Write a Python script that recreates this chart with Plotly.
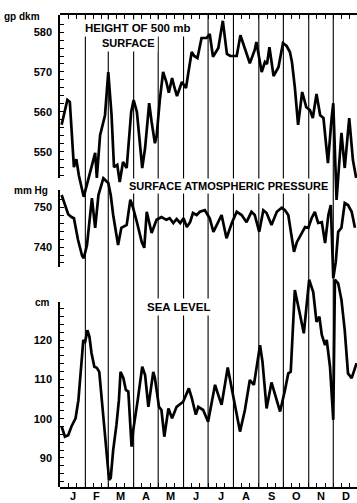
import plotly.graph_objects as go

# ---- data (day of year, value) ----
days_500 = [2, 5, 9, 12, 17, 20, 23, 29, 34, 43, 45, 49, 55, 59, 63, 66, 70, 73, 77, 81.5,
            87, 90, 94, 100.5, 104, 109, 112, 116, 118, 122, 126, 130, 133, 137, 140, 143, 149, 152, 154, 157,
            161, 164, 168, 173, 179, 183, 187, 193.5, 199, 204, 208, 212, 216, 220.5, 226, 232, 238, 240,
            246.5, 250.5, 253, 256, 261, 267, 272.5, 277, 281, 283.5, 287, 291, 296, 301, 305.5, 309, 313.5,
            318, 322, 327.5, 332, 334, 338, 344, 348, 353.5, 358, 362]
hgt_500 = [556.8, 559.2, 563.0, 562.5, 546.2, 548.2, 544.2, 538.8, 543.0, 549.8, 543.5, 554.2, 559.2, 570.0,
           559.2, 546.2, 546.8, 542.5, 547.5, 546.0, 560.0, 563.0, 560.0, 546.0, 551.0, 562.2, 557.5, 552.2,
           553.8, 563.0, 570.0, 567.5, 564.8, 568.5, 566.0, 564.0, 567.5, 566.5, 566.0, 570.0, 575.0, 574.0,
           573.5, 578.5, 578.5, 579.5, 573.8, 576.0, 582.8, 574.5, 574.0, 574.0, 574.0, 579.2, 576.0, 572.2,
           575.5, 577.5, 570.0, 572.5, 572.0, 576.2, 569.0, 571.2, 577.2, 576.5, 575.0, 572.5, 566.2, 556.8,
           565.0, 561.2, 560.5, 558.5, 564.5, 559.2, 558.5, 547.2, 558.5, 562.2, 538.0, 554.8, 546.0, 558.5,
           548.0, 543.5]

days_p = [2, 6, 10, 14, 17, 22, 27, 29, 33, 39, 43, 47, 53, 59, 62, 65, 71, 75, 81.5, 86, 89, 94, 100,
          103, 106, 112, 118, 124, 130, 134, 138.5, 142.5, 147, 151, 155, 159, 162.5, 167, 171, 177, 183,
          187.5, 192, 197.5, 203.5, 210, 216, 222, 228, 234, 238, 243.5, 248.5, 252.5, 258.5, 265, 271, 275,
          279, 286, 289.5, 295.5, 299.5, 303.5, 307.5, 311.5, 315.5, 320, 324, 328, 331, 334, 337, 340,
          344, 348, 352, 356.5, 360.5]
pres = [753.0, 750.5, 748.2, 747.5, 747.2, 741.8, 737.8, 737.2, 740.5, 752.2, 744.8, 753.0, 757.2, 756.0,
        753.0, 748.0, 740.5, 744.8, 745.5, 751.8, 750.0, 746.2, 741.2, 739.8, 748.8, 743.5, 746.8, 747.5,
        746.8, 747.2, 746.0, 747.0, 746.0, 747.2, 745.0, 746.2, 748.5, 748.0, 748.8, 749.2, 747.2, 743.8,
        745.8, 748.0, 742.2, 746.0, 748.8, 748.0, 746.2, 748.8, 748.0, 743.8, 749.2, 748.5, 745.5, 748.8,
        749.8, 749.2, 748.0, 738.8, 741.2, 743.5, 745.0, 744.8, 747.2, 748.8, 746.0, 746.2, 741.0, 748.0,
        750.5, 732.2, 736.2, 743.8, 744.8, 751.0, 750.5, 748.8, 744.8]

days_sl = [2, 6, 10, 14, 19, 22.5, 26.5, 28.5, 30.5, 33.5, 36, 38.5, 42, 45, 48, 53, 57, 60, 62, 65, 69,
           72, 74, 77.5, 80.5, 83.5, 87.5, 89.5, 95, 100.5, 104, 108, 114, 116, 121, 124, 127.5, 132.5, 137,
           142.5, 150.5, 155, 157.5, 161, 166, 169, 175, 181, 189.5, 193.5, 197.5, 205, 210, 220, 226, 232,
           237, 244.5, 247.5, 252.5, 258.5, 264, 269, 275, 279, 282, 287, 293, 298, 304.5, 309.5, 313.5,
           317, 320, 324, 326, 330, 334, 336, 340, 344, 348, 352, 356.5, 362.5]
sea = [98.0, 95.4, 95.8, 98.0, 100.1, 104.7, 114.9, 120.0, 119.2, 122.5, 120.8, 116.7, 113.2, 112.9, 111.9,
       100.5, 90.3, 84.4, 84.9, 92.0, 98.4, 104.7, 111.9, 110.3, 107.3, 106.9, 92.9, 97.1, 104.7, 113.2,
       111.1, 103.0, 111.9, 110.3, 103.0, 102.2, 95.4, 102.6, 100.1, 103.0, 104.3, 106.8, 107.7, 105.3,
       101.0, 103.0, 102.2, 99.2, 108.6, 106.0, 103.5, 113.0, 107.7, 96.7, 102.2, 109.8, 108.6, 118.7, 114.4,
       102.6, 109.2, 105.5, 101.8, 107.3, 111.5, 111.9, 132.7, 126.8, 121.7, 135.3, 132.2, 124.6, 125.9,
       121.3, 118.7, 120.0, 113.2, 99.7, 135.3, 134.4, 130.2, 122.5, 111.5, 110.3, 114.1]

month_starts = [0, 31, 59, 90, 120, 151, 181, 212, 243, 273, 304, 334]
month_mids = [15.5, 45, 74.5, 105, 135.5, 166, 196.5, 227.5, 258, 288.5, 319, 349.5]
month_labels = ["J", "F", "M", "A", "M", "J", "J", "A", "S", "O", "N", "D"]

hgt_ticks = list(range(544, 585, 2))
pres_ticks = list(range(736, 755, 2))
sea_ticks = list(range(84, 130, 2))

FONT = "Liberation Sans"
LW = 2.7

fig = go.Figure()
fig.add_trace(go.Scatter(x=days_500, y=hgt_500, mode="lines", yaxis="y",
                         line=dict(color="black", width=LW), hoverinfo="skip", showlegend=False))
fig.add_trace(go.Scatter(x=days_p, y=pres, mode="lines", yaxis="y2",
                         line=dict(color="black", width=LW), hoverinfo="skip", showlegend=False))
fig.add_trace(go.Scatter(x=days_sl, y=sea, mode="lines", yaxis="y3",
                         line=dict(color="black", width=LW), hoverinfo="skip", showlegend=False))
# anchors for the three partial left axes
for ax in ["y4", "y5", "y6"]:
    fig.add_trace(go.Scatter(x=[None], y=[None], yaxis=ax, mode="lines",
                             hoverinfo="skip", showlegend=False))

minor_x = []
for s in month_starts:
    minor_x += [s, s + 10, s + 20]
minor_x = [v for v in minor_x if v > 0]

hidden = dict(visible=False, showgrid=False, zeroline=False, fixedrange=True)


def disp_axis(dom, rng, ticks):
    return dict(domain=dom, range=rng, anchor="x", showline=True, linecolor="black",
                linewidth=1.5, ticks="inside", ticklen=4, tickwidth=1.2, tickcolor="black",
                tickvals=ticks, ticktext=[str(v) if v % 10 == 0 else "" for v in ticks],
                tickfont=dict(family=FONT, size=11, color="black", weight="bold"),
                showgrid=False, zeroline=False, ticklabelstandoff=4)


fig.update_layout(
    width=357, height=503,
    margin=dict(l=60, r=0, t=15, b=16),
    paper_bgcolor="white", plot_bgcolor="rgba(0,0,0,0)",
    xaxis=dict(range=[0, 363], showline=True, linecolor="black", linewidth=1.5,
               mirror="ticks", ticks="inside", ticklen=4, tickwidth=1.2, tickcolor="black",
               tickvals=minor_x, ticktext=["" for _ in minor_x],
               showgrid=False, zeroline=False, anchor="y"),
    yaxis=dict(range=[466.25, 584.25], **hidden),
    yaxis2=dict(range=[680, 798], overlaying="y", **hidden),
    yaxis3=dict(range=[82.62, 202.62], overlaying="y", **hidden),
    yaxis4=disp_axis([0.6547, 1.0], [543.5, 584.25], hgt_ticks),
    yaxis5=disp_axis([0.4661, 0.6292], [735, 754.25], pres_ticks),
    yaxis6=disp_axis([0.0, 0.3919], [82.62, 129.66], sea_ticks),
)

# month boundary lines
for s in month_starts[1:]:
    fig.add_shape(type="line", xref="x", yref="paper", x0=s, x1=s, y0=0, y1=1,
                  line=dict(color="black", width=1.1), layer="below")

bold = dict(family=FONT, color="black", weight="bold")

# month letters
for m, lab in zip(month_mids, month_labels):
    fig.add_annotation(x=m, y=0, xref="x", yref="paper", text=lab, showarrow=False,
                       xanchor="center", yanchor="middle", yshift=-9, font=dict(size=11, **bold))


def label(x, y, text, size, anchor="center", bg=None, pad=1):
    kw = dict(bgcolor=bg) if bg else {}
    fig.add_annotation(x=x, y=y, xref="paper", yref="paper", text=text, showarrow=False,
                       xanchor=anchor, yanchor="middle", font=dict(size=size, **bold),
                       borderpad=pad, **kw)


# panel titles
label(0.261, 0.9725, "HEIGHT OF 500 mb", 11.5, bg="white", pad=2)
label(0.2306, 0.9407, "SURFACE", 11, bg="white", pad=2)
label(0.567, 0.6377, "SURFACE ATMOSPHERIC PRESSURE", 11, bg="white", pad=1)
label(0.399, 0.3814, "SEA LEVEL", 11.5, bg="white", pad=2)

# unit labels
label(-0.195, 0.9968, "gp dkm", 10, anchor="left")
label(-0.1616, 0.629, "mm Hg", 10, anchor="left")
label(-0.0909, 0.3909, "cm", 10, anchor="left")

fig.write_html("out.html", config={"displayModeBar": False},
               post_script="document.body.style.margin='0';document.body.style.overflow='hidden';")
